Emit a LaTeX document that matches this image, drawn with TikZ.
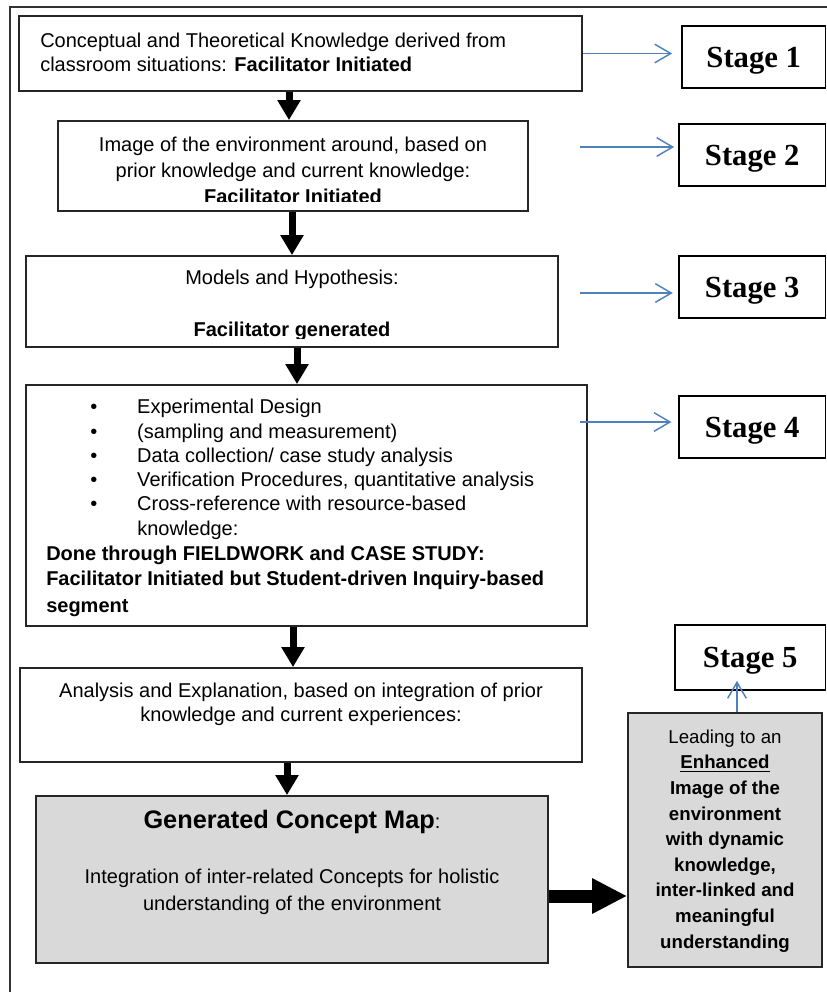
\documentclass[tikz,border=0pt]{standalone}
\usepackage{fontspec}
\setmainfont{Liberation Sans}
\newfontfamily\stagefont{Liberation Serif}
\usetikzlibrary{arrows.meta}
\definecolor{linkblue}{RGB}{79,129,189}
\definecolor{mapgrey}{RGB}{217,217,217}
\newcommand{\itm}{\makebox[68.25pt][l]{\hspace{33pt}\textbullet}}

\begin{document}
\begin{tikzpicture}[x=0.75pt, y=-0.75pt,
    box/.style={draw=black!85, line width=1.3pt, inner sep=0pt},
    greybox/.style={box, fill=mapgrey},
    stagebox/.style={draw=black, line width=1.3pt, inner sep=0pt, minimum height=46.5pt, text depth=0pt,
      font=\stagefont\bfseries\fontsize{23pt}{27pt}\selectfont},
    txt/.style={inner sep=0pt, font=\fontsize{15pt}{18pt}\selectfont},
    fat/.style={line width=5.25pt, -{Triangle[length=15pt, width=16.5pt]}},
    link/.style={linkblue, line width=1.1pt, shorten >=4pt, -{Straight Barb[length=12pt, width=14pt]}}]
  \useasboundingbox (0,0) rectangle (827,992);
  \draw[line width=1.5pt, black!80] (10,1000) -- (10,7) -- (840,7);

  % the steps
  \node[box, minimum width=422.25pt, minimum height=56.25pt] (know) at (300.5,53.5) {};
  \node[box, minimum width=352.5pt, minimum height=67.5pt] (image) at (293,166) {};
  \node[box, minimum width=399pt, minimum height=68.25pt] (model) at (292,301.5) {};
  \node[box, minimum width=420.75pt, minimum height=180.75pt] (design) at (306.5,505.5) {};
  \node[box, minimum width=421.5pt, minimum height=70.5pt] (anal) at (301,715) {};
  \node[greybox, minimum width=384pt, minimum height=125.25pt] (cmap) at (292,879.5) {};
  \node[greybox, minimum width=145.5pt, minimum height=190.5pt] (lead) at (725,840) {};

  % the stages
  \node[stagebox, minimum width=107.6pt] (stage1) at (753.75,57) {Stage 1};
  \node[stagebox, minimum width=109.9pt] (stage2) at (752.25,155) {Stage 2};
  \node[stagebox, minimum width=109.9pt] (stage3) at (752.25,287) {Stage 3};
  \node[stagebox, minimum width=109.9pt] (stage4) at (752.25,427) {Stage 4};
  \node[stagebox, minimum width=112.9pt, minimum height=48.75pt] (stage5) at (750.25,657.5) {Stage 5};

  % texts (placed by the baseline of their last line)
  \node[txt, anchor=base west, align=left] at (40,71)
    {Conceptual and Theoretical Knowledge derived from\\classroom situations: \textbf{Facilitator Initiated}};
  \begin{scope}
    \clip (image.north west) rectangle ([yshift=7.5pt]image.south east);
    \node[txt, anchor=base, align=center, font=\fontsize{15pt}{19.5pt}\selectfont] at (293,203)
      {Image of the environment around, based on\\prior knowledge and current knowledge:\\\textbf{Facilitator Initiated}};
  \end{scope}
  \begin{scope}
    \clip (model.north west) rectangle ([yshift=6.75pt]model.south east);
    \node[txt, anchor=base, align=center] at (292,336)
      {Models and Hypothesis:\\[21pt]\textbf{Facilitator generated}};
  \end{scope}
  \node[txt, anchor=base west, align=left, font=\fontsize{15pt}{18.2pt}\selectfont] at (46,612)
    {\itm Experimental Design\\
     \itm (sampling and measurement)\\
     \itm Data collection/ case study analysis\\
     \itm Verification Procedures, quantitative analysis\\
     \itm Cross-reference with resource-based\\
     \hspace*{68.25pt}knowledge:\\[0.5pt]
     \textbf{Done through FIELDWORK and CASE STUDY:}\\[1pt]
     \textbf{Facilitator Initiated but Student-driven Inquiry-based}\\[1.5pt]
     \textbf{segment}};
  \node[txt, anchor=base, align=center] at (301,721)
    {Analysis and Explanation, based on integration of prior\\knowledge and current experiences:};
  \node[txt, anchor=base, font=\bfseries\fontsize{19pt}{22pt}\selectfont] at (292,828)
    {Generated Concept Map{\mdseries\fontsize{15pt}{18pt}\selectfont:}};
  \node[txt, anchor=base, align=center, font=\fontsize{15pt}{20.25pt}\selectfont] at (292,910)
    {Integration of inter-related Concepts for holistic\\understanding of the environment};
  \node[txt, anchor=base, align=center, font=\fontsize{14pt}{19.2pt}\selectfont] at (725,948)
    {Leading to an\\\textbf{\underline{Enhanced}}\\\textbf{Image of the}\\\textbf{environment}\\
     \textbf{with dynamic}\\\textbf{knowledge,}\\\textbf{inter-linked and}\\\textbf{meaningful}\\
     \textbf{understanding}};

  % flow arrows
  \draw[fat] (know.south -| 289,0) -- (image.north -| 289,0);
  \draw[fat] (image.south -| 292,0) -- (model.north -| 292,0);
  \draw[fat] (model.south -| 297,0) -- (design.north -| 297,0);
  \draw[fat] (design.south -| 293,0) -- (anal.north -| 293,0);
  \draw[fat] (anal.south -| 287,0) -- (cmap.north -| 287,0);
  \draw[line width=9.75pt, -{Triangle[length=26.25pt, width=24.75pt]}] (cmap.east |- 0,896) -- (lead.west |- 0,896);

  % links to the stages
  \coordinate (from2) at (580,147);
  \coordinate (from3) at (580,293);
  \coordinate (from4) at (580,422);
  \draw[link, shorten >=6.75pt] (know.east) -- (know.east -| stage1.west);
  \draw[link, shorten >=3pt] (from2) -- (from2 -| stage2.west);
  \draw[link] (from3) -- (from3 -| stage3.west);
  \draw[link, shorten >=5pt] (from4) -- (from4 -| stage4.west);
  \draw[link, shorten >=-7.5pt] (lead.north -| 737,0) -- (stage5.south -| 737,0);
\end{tikzpicture}
\end{document}
